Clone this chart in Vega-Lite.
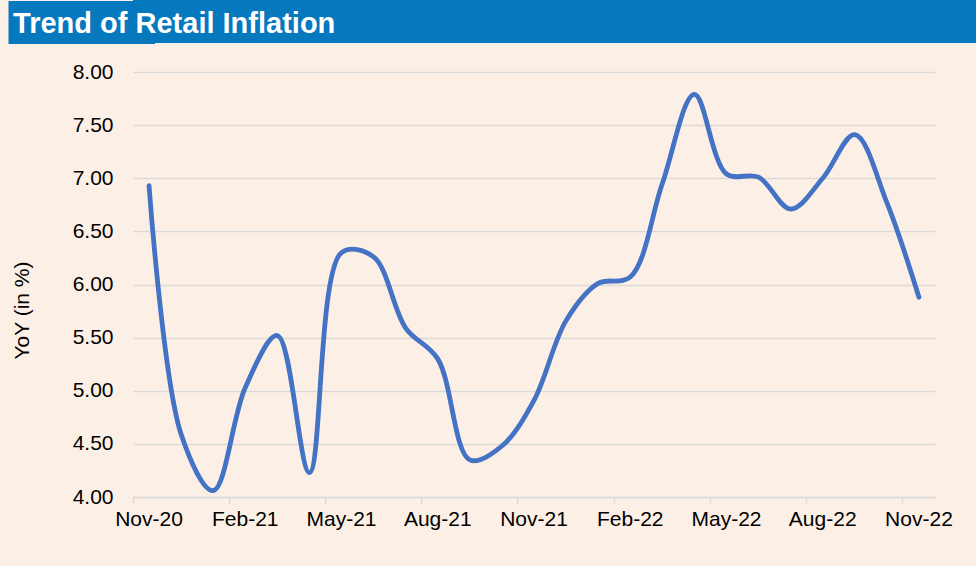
{
  "$schema": "https://vega.github.io/schema/vega-lite/v6.json",
  "background": "#fcf0e6",
  "padding": {"left": -1, "top": -9, "right": 0, "bottom": 60},
  "spacing": 8,
  "config": {"view": {"stroke": null}, "font": "Liberation Sans"},
  "vconcat": [
    {
      "width": 843,
      "height": 43,
      "data": {"values": [{"lo": 0, "hi": 1}]},
      "mark": {"type": "rect", "color": "#0678be"},
      "encoding": {
        "y": {
          "field": "lo",
          "type": "quantitative",
          "scale": {"domain": [0, 1], "nice": false, "zero": false},
          "axis": {
            "values": [0.5],
            "labels": false,
            "domain": false,
            "grid": false,
            "title": null,
            "ticks": true,
            "tickSize": 103.5,
            "tickWidth": 43,
            "tickCap": "square",
            "tickColor": "#0678be"
          }
        },
        "y2": {"field": "hi"}
      },
      "title": {
        "text": "Trend of Retail Inflation",
        "orient": "bottom",
        "anchor": "start",
        "frame": "bounds",
        "offset": -19,
        "baseline": "alphabetic",
        "dx": 14,
        "fontSize": 29,
        "fontWeight": "bold",
        "color": "#ffffff",
        "font": "Liberation Sans"
      }
    },
    {
      "width": 802,
      "height": 425,
      "data": {
        "values": [
          {"month": "Nov-20", "yoy": 6.93},
          {"month": "Dec-20", "yoy": 4.59},
          {"month": "Jan-21", "yoy": 4.06},
          {"month": "Feb-21", "yoy": 5.03},
          {"month": "Mar-21", "yoy": 5.52},
          {"month": "Apr-21", "yoy": 4.23},
          {"month": "May-21", "yoy": 6.30},
          {"month": "Jun-21", "yoy": 6.26},
          {"month": "Jul-21", "yoy": 5.59},
          {"month": "Aug-21", "yoy": 5.30},
          {"month": "Sep-21", "yoy": 4.35},
          {"month": "Oct-21", "yoy": 4.48},
          {"month": "Nov-21", "yoy": 4.91},
          {"month": "Dec-21", "yoy": 5.66},
          {"month": "Jan-22", "yoy": 6.01},
          {"month": "Feb-22", "yoy": 6.07},
          {"month": "Mar-22", "yoy": 6.95},
          {"month": "Apr-22", "yoy": 7.79},
          {"month": "May-22", "yoy": 7.04},
          {"month": "Jun-22", "yoy": 7.01},
          {"month": "Jul-22", "yoy": 6.71},
          {"month": "Aug-22", "yoy": 7.00},
          {"month": "Sep-22", "yoy": 7.41},
          {"month": "Oct-22", "yoy": 6.77},
          {"month": "Nov-22", "yoy": 5.88}
        ]
      },
      "mark": {"type": "line", "interpolate": "catmull-rom", "color": "#4472c4", "strokeWidth": 4.8, "strokeCap": "round", "strokeJoin": "round"},
      "encoding": {
        "x": {
          "field": "month",
          "type": "ordinal",
          "sort": null,
          "scale": {"type": "band", "paddingInner": 0, "paddingOuter": 0},
          "bandPosition": 0.5,
          "axis": {
            "values": ["Nov-20", "Feb-21", "May-21", "Aug-21", "Nov-21", "Feb-22", "May-22", "Aug-22", "Nov-22"],
            "bandPosition": 0,
            "labelAngle": 0,
            "labelOverlap": false,
            "title": null,
            "grid": false,
            "domainColor": "#d9d9d9",
            "domainWidth": 1.5,
            "tickColor": "#d9d9d9",
            "tickWidth": 1.5,
            "tickSize": 6,
            "labelPadding": 5,
            "labelFontSize": 21,
            "labelColor": "#000000",
            "labelFont": "Liberation Sans"
          }
        },
        "y": {
          "field": "yoy",
          "type": "quantitative",
          "scale": {"domain": [4, 8], "nice": false, "zero": false},
          "axis": {
            "values": [4, 4.5, 5, 5.5, 6, 6.5, 7, 7.5, 8],
            "format": ".2f",
            "title": "YoY (in %)",
            "domain": false,
            "ticks": false,
            "labelPadding": 20,
            "labelFontSize": 21,
            "labelColor": "#000000",
            "labelFont": "Liberation Sans",
            "gridColor": "#d9d9d9",
            "gridWidth": 1.5,
            "titleFontSize": 21,
            "titleFontWeight": "normal",
            "titleColor": "#000000",
            "titleFont": "Liberation Sans",
            "titlePadding": 40,
            "titleY": 238
          }
        }
      }
    }
  ]
}
